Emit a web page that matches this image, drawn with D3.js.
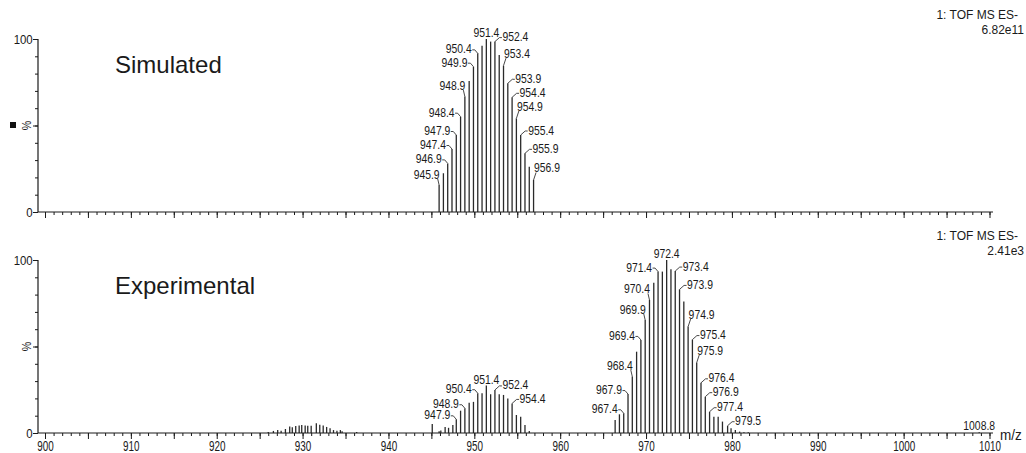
<!DOCTYPE html>
<html><head><meta charset="utf-8">
<script src="https://cdn.jsdelivr.net/npm/d3@7"></script>
<style>
html,body{margin:0;padding:0;background:#fff;}
text{font-family:"Liberation Sans",Arial,sans-serif;fill:#1a1a1a;}
</style></head>
<body>
<svg id="chart" width="1026" height="453"></svg>
<script>
// ---------- DATA ----------
const xTickLabels = [900, 910, 920, 930, 940, 950, 960, 970, 980, 990, 1000, 1010];

// Simulated spectrum (top panel)
const simMz  = [945.9, 946.4, 946.9, 947.4, 947.9, 948.4, 948.9, 949.4, 949.9, 950.4, 950.9, 951.4,
                951.9, 952.4, 952.9, 953.4, 953.9, 954.4, 954.9, 955.4, 955.9, 956.4, 956.9];
const simInt = [15.6, 22.4, 28.1, 36.4, 44.5, 55.1, 66.7, 75.7, 84.0, 91.7, 96.1, 100,
                98.5, 98.5, 90.8, 84.6, 74.4, 66.3, 54.1, 44.5, 33.9, 26.2, 18.5];
const simInfo = ["1: TOF MS ES-", "6.82e11"];

// Experimental spectrum (bottom panel)
const expMz  = [926.0, 926.6, 927.1, 927.5, 928.0, 928.5, 928.8, 929.2, 929.6, 929.9, 930.3, 930.6,
                931.0, 931.6, 932.0, 932.4, 932.8, 933.2, 933.6, 934.0, 934.4, 934.6, 936.3,
                945.1, 945.9, 946.1, 946.6, 947.0, 947.5, 947.9, 948.4, 948.9, 949.4, 949.9, 950.4,
                950.9, 951.4, 951.9, 952.4, 952.9, 953.4, 953.9, 954.4, 954.9, 955.4, 955.9, 956.4,
                966.4, 966.9, 967.4, 967.9, 968.4, 968.9, 969.4, 969.9, 970.4, 970.9, 971.4, 971.9,
                972.4, 972.9, 973.4, 973.9, 974.4, 974.9, 975.4, 975.9, 976.4, 976.9, 977.4, 977.9,
                978.4, 978.9, 979.5, 979.9, 980.4, 980.9, 981.4, 981.9, 1008.8];
const expInt = [0.6, 1.2, 1.7, 1.3, 2.3, 3.7, 3.3, 4.0, 4.4, 4.6, 4.4, 4.2,
                4.2, 5.6, 4.8, 4.4, 3.5, 2.7, 1.7, 1.3, 1.7, 1.0, 0.6,
                5.2, 1.0, 1.4, 3.5, 3.0, 4.6, 7.9, 12.9, 14.3, 17.5, 18.0, 23.0,
                23.0, 27.4, 22.4, 24.9, 22.4, 22.0, 20.0, 17.1, 10.4, 9.4, 4.6, 1.2,
                7.5, 10.8, 11.4, 22.5, 32.6, 47.0, 53.8, 65.3, 76.9, 86.9, 93.3, 93.3,
                100, 94.6, 93.6, 83.0, 76.0, 61.5, 54.0, 40.7, 29.0, 21.0, 12.3, 9.4,
                9.4, 6.6, 4.2, 2.7, 1.7, 0.8, 0.5, 0.4, 0.4];
const expInfo = ["1: TOF MS ES-", "2.41e3"];

// Peak labels (m/z that carry an annotation)
const simLabelMz = [945.9, 946.9, 947.4, 947.9, 948.4, 948.9, 949.9, 950.4, 951.4, 952.4, 953.4,
                    953.9, 954.4, 954.9, 955.4, 955.9, 956.9];
const expLabelMz = [947.9, 948.9, 950.4, 951.4, 952.4, 954.4, 967.4, 967.9, 968.4, 969.4, 969.9,
                    970.4, 971.4, 972.4, 973.4, 973.9, 974.9, 975.4, 975.9, 976.4, 976.9, 977.4,
                    979.5, 1008.8];

// ---------- LAYOUT (label placement: L left, R right, UL/UR up-left/up-right, C centred) ----------
const simLabelSide = ["UL","L","L","L","L","UL","L","L","C","R","UR","R","R","UR","R","R","UR"];
const expLabelSide = ["L","L","L","C","R","R","L","L","UL","L","UL","UL","L","C","R","R","UR","R","UR","R","R","R","R","C"];

const svg = d3.select("#chart");
const x = d3.scaleLinear().domain([900, 1010]).range([45, 989.5]);
const AXIS_X0 = 38, AXIS_X1 = 993;
const ink = "#1a1a1a";

function panel(cfg) {
  const y = d3.scaleLinear().domain([0, 100]).range([cfg.y0, cfg.y100]);
  const g = svg.append("g");

  // peaks
  g.append("g").selectAll("line").data(cfg.mz.map((m, i) => [m, cfg.int[i]]))
    .join("line")
    .attr("x1", d => x(d[0])).attr("x2", d => x(d[0]))
    .attr("y1", y(0)).attr("y2", d => y(d[1]))
    .attr("stroke", "#2a2a2a").attr("stroke-width", 1.3);

  // x axis: minor + major ticks
  const xMinor = d3.axisBottom(x).tickValues(d3.range(900, 1011, 1)).tickSize(3).tickFormat("");
  const xMajor = d3.axisBottom(x).tickValues(d3.range(900, 1011, 5)).tickSize(6)
    .tickFormat(v => (cfg.showXLabels && xTickLabels.includes(v)) ? String(v) : "");
  [xMinor, xMajor].forEach(ax => {
    const a = g.append("g").attr("transform", `translate(0,${cfg.y0})`).call(ax);
    a.select(".domain").remove();
    a.selectAll("line").attr("stroke", ink);
    a.selectAll("text").attr("y", 7).attr("font-size", 15).attr("fill", ink)
      .attr("font-family", '"Liberation Sans",Arial,sans-serif')
      .attr("transform", "scale(0.66,1)");
  });
  g.append("line").attr("x1", AXIS_X0).attr("x2", AXIS_X1)
    .attr("y1", cfg.y0).attr("y2", cfg.y0).attr("stroke", ink).attr("stroke-width", 1.2);

  // y axis
  const yMinor = d3.axisLeft(y).tickValues(d3.range(0, 101, 10)).tickSize(3).tickFormat("");
  const yMajor = d3.axisLeft(y).tickValues([0, 50, 100]).tickSize(5)
    .tickFormat(v => v === 50 ? "" : String(v));
  [yMinor, yMajor].forEach(ax => {
    const a = g.append("g").attr("transform", `translate(${AXIS_X0},0)`).call(ax);
    a.select(".domain").remove();
    a.selectAll("line").attr("stroke", ink);
    a.selectAll("text").attr("font-size", 13).attr("fill", ink)
      .attr("font-family", '"Liberation Sans",Arial,sans-serif')
      .attr("x", -6).attr("transform", "scale(0.88,1)");
  });
  g.append("line").attr("x1", AXIS_X0).attr("x2", AXIS_X0)
    .attr("y1", y(100)).attr("y2", cfg.y0).attr("stroke", ink).attr("stroke-width", 1.2);

  // % label
  const ymid = (y(0) + y(100)) / 2;
  g.append("text").attr("transform", `translate(31,${ymid}) rotate(-90) scale(0.85,1)`)
    .attr("text-anchor", "middle").attr("font-size", 12.5).text("%");

  // panel title
  g.append("text").attr("x", 115).attr("y", cfg.y100 + 34).attr("font-size", 24)
    .attr("fill", "#000").text(cfg.title);

  // instrument info
  g.append("text").attr("x", 1018).attr("y", cfg.y100 - 20).attr("text-anchor", "end")
    .attr("font-size", 12).text(cfg.info[0]);
  g.append("text").attr("x", 1024).attr("y", cfg.y100 - 5).attr("text-anchor", "end")
    .attr("font-size", 12).text(cfg.info[1]);

  // peak labels
  const lab = g.append("g");
  cfg.labelMz.forEach((m, i) => {
    const side = cfg.labelSide[i];
    const idx = cfg.mz.indexOf(m);
    const px = x(m), top = y(cfg.int[idx]);
    let tx, cy, anchor, leader = null;
    if (side === "L") {
      tx = px - 6; cy = top - 4.5; anchor = "end";
      leader = [[tx + 0.5, cy + 1], [tx + 3, cy + 1], [px, top]];
    } else if (side === "R") {
      tx = px + 7.5; cy = top - 5; anchor = "start";
      leader = [[tx - 0.5, cy + 1], [tx - 3, cy + 1], [px, top]];
    } else if (side === "UL") {
      tx = px + 0.5; cy = top - 11; anchor = "end";
      leader = [[tx - 2, cy + 4.5], [px, top]];
    } else if (side === "UR") {
      tx = px + 0.5; cy = top - 12; anchor = "start";
      leader = [[tx + 2, cy + 4.5], [px, top]];
    } else {
      tx = px; cy = top - 6.5; anchor = "middle";
    }
    lab.append("text")
      .attr("transform", `translate(${tx},${cy + 4.5}) scale(0.83,1)`)
      .attr("text-anchor", anchor).attr("font-size", 12.5).text(m.toFixed(1));
    if (leader) {
      lab.append("path").attr("d", d3.line()(leader)).attr("fill", "none")
        .attr("stroke", "#333").attr("stroke-width", 0.9);
    }
  });
}

panel({ mz: simMz, int: simInt, y0: 212, y100: 39, title: "Simulated", info: simInfo,
        labelMz: simLabelMz, labelSide: simLabelSide, showXLabels: false });
panel({ mz: expMz, int: expInt, y0: 433, y100: 260, title: "Experimental", info: expInfo,
        labelMz: expLabelMz, labelSide: expLabelSide, showXLabels: true });

// m/z axis title
svg.append("text").attr("transform", "translate(1000,440) scale(0.9,1)")
  .attr("font-size", 15).text("m/z");

// small marker square at left of the upper panel
svg.append("rect").attr("x", 10).attr("y", 122).attr("width", 6).attr("height", 6).attr("fill", "#111");
</script>
</body></html>
